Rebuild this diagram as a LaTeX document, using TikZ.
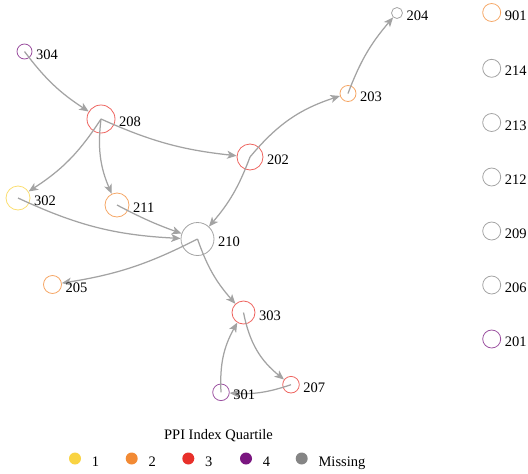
\documentclass[tikz,border=0pt]{standalone}
\usepackage{fontspec}
\setmainfont{Liberation Serif}
\usetikzlibrary{arrows.meta,positioning}

\definecolor{qone}{HTML}{F9D342}
\definecolor{qtwo}{HTML}{F28A34}
\definecolor{qthree}{HTML}{E8302A}
\definecolor{qfour}{HTML}{7A1680}
\definecolor{qna}{HTML}{858585}
\definecolor{edgegray}{HTML}{A3A3A3}

\begin{document}
\begin{tikzpicture}[x=1pt, y=-1pt, every node/.style={font=\fontsize{14.5}{16}\selectfont},
  vnode/.style={draw, circle, inner sep=0pt, line width=0.8pt, draw opacity=0.75},
  lbl/.style={inner sep=0pt, text height=10pt, text depth=0pt, yshift=-2.5pt},
  edge/.style={draw=edgegray, line width=1.25pt, -{Stealth[length=9.5pt, width=8pt, inset=2.5pt]}},
  key/.style={circle, inner sep=0pt, minimum size=12pt}]
  \useasboundingbox (0,0) rectangle (528,474);
  % vertices: id / x / y / radius / quartile colour
  \foreach \id/\x/\y/\r/\q in {304/24.5/51.5/7.5/qfour, 208/101/119/14/qthree,
      202/250/157/13/qthree, 203/348/93.5/8/qtwo, 204/397/13/5.5/qna,
      302/18/198/12/qone, 211/117/205/12/qtwo, 210/197.5/239/16.5/qna,
      205/52.5/284.5/9/qtwo, 303/243.5/312.5/11.5/qthree, 207/291/384.7/8.3/qthree,
      301/221/392.3/8.3/qfour, 901/491.7/12.5/9/qtwo, 214/491.7/68.3/9/qna,
      213/491.7/122.5/9/qna, 212/491.7/177/9/qna, 209/491.7/231/9/qna,
      206/491.7/285/9/qna, 201/491.7/339/9/qfour}{
    \node[vnode, draw=\q, minimum size={2*\r pt}] (n\id) at (\x,\y) {};
  }
  % directed edges, signed bend (negative = bend right)
  \foreach \a/\b/\ang in {304/208/-10, 208/202/-9, 208/302/12, 208/211/-15,
      202/210/10, 202/203/16, 203/204/10, 302/210/-11, 211/210/-4,
      210/205/9, 210/303/-11, 303/207/-20, 207/301/11, 301/303/16}{
    \draw[edge] (n\a.center) to[bend left=\ang] (n\b);
  }
  % vertex labels
  \foreach \id in {304,208,202,203,204,302,211,210,205,303,207,301,
      901,214,213,212,209,206,201}{
    \node[lbl, right=3.5pt of n\id] (l\id) {\id};
  }
  % legend
  \node (ttl) at (218.5,436) {PPI Index Quartile};
  \foreach \k/\x/\q/\t in {1/75/qone/1, 2/131.7/qtwo/2, 3/188.3/qthree/3,
      4/246/qfour/4, 5/301.7/qna/Missing}{
    \node[key, fill=\q] (k\k) at (\x,458.5) {};
    \node[lbl, right=10.5pt of k\k] (t\k) {\t};
  }
\end{tikzpicture}
\end{document}
